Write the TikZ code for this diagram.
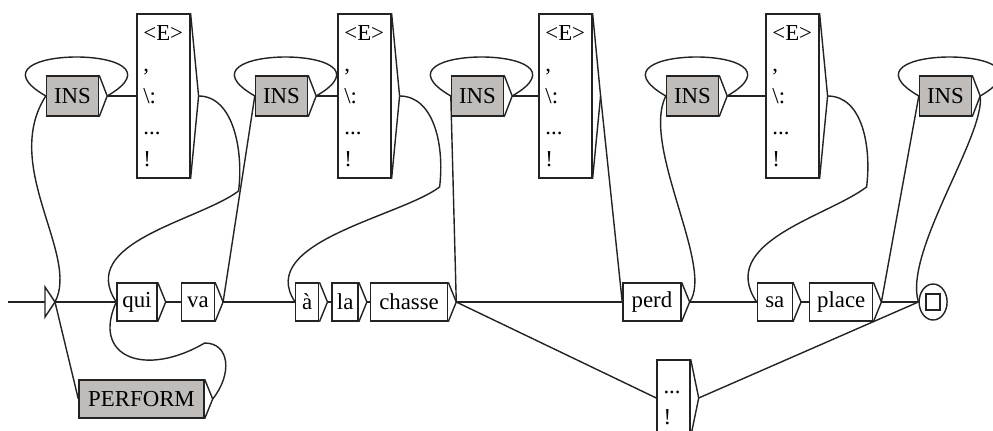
\documentclass[tikz,border=0pt]{standalone}
\usepackage{fontspec}
\setmainfont{Liberation Serif}
\usetikzlibrary{positioning,shapes.geometric}
\definecolor{uxGris}{RGB}{192,188,186}
\definecolor{uxTrait}{RGB}{35,35,35}

\begin{document}
\begin{tikzpicture}[x=0.02cm, y=0.02cm,
     boite/.style={rectangle, draw=uxTrait, line width=0.8pt, inner sep=1pt,
                   minimum height=0.76cm, font=\fontsize{13}{18}\selectfont},
     ins/.style={boite, fill=uxGris, minimum width=1.04cm, minimum height=0.8cm},
     liste/.style={boite, minimum width=1.06cm, minimum height=3.28cm,
                   text width=0.8cm, inner xsep=0.13cm, align=left},
     tr/.style={uxTrait, line width=0.8pt}]
    \useasboundingbox (0,0) rectangle (993,430);
    \clip (0,0) rectangle (993,430);
    % ligne principale
    \coordinate (entree) at (8,128);
    \coordinate (init) at (55,128);
    \node[boite, minimum width=0.8cm] (qui) at (137,128) {qui};
    \node[boite, minimum width=0.66cm, right=0.46cm of qui] (va) {va};
    \node[boite, minimum width=0.46cm, right=1.6cm of va] (a) {à};
    \node[boite, minimum width=0.52cm, right=0.24cm of a] (la) {la};
    \node[boite, minimum width=1.54cm, right=0.22cm of la] (chasse) {chasse};
    \node[boite, minimum width=1.16cm, right=3.48cm of chasse] (perd) {perd};
    \node[boite, minimum width=0.7cm, right=1.5cm of perd] (sa) {sa};
    \node[boite, minimum width=1.26cm, right=0.32cm of sa] (place) {place};
    \node[draw=uxTrait, line width=0.8pt, ellipse, inner sep=0pt,
          minimum width=0.56cm, minimum height=0.72cm, right=0.9cm of place] (final) {};
    \node[draw=uxTrait, line width=0.8pt, inner sep=0pt,
          minimum width=0.28cm, minimum height=0.32cm] (carre) at (final) {};
    \node[ins, minimum width=2.5cm, minimum height=0.76cm] (perform) at (141.5,31) {PERFORM};
    \node[liste, minimum width=0.66cm, text width=0.4cm, minimum height=1.52cm] (pct) at (673.5,32) {\strut...\\!};
    % insertions
    \node[ins] (ins1) at (72.5,334) {INS};
    \node[liste, right=0.74cm of ins1] (b1) {<E>\\,\\\textbackslash:\\...\\!};
    \node[ins] (ins2) at (281.5,334) {INS};
    \node[liste, right=0.58cm of ins2] (b2) {<E>\\,\\\textbackslash:\\...\\!};
    \node[ins] (ins3) at (477.5,334) {INS};
    \node[liste, right=0.68cm of ins3] (b3) {<E>\\,\\\textbackslash:\\...\\!};
    \node[ins] (ins4) at (692.5,334) {INS};
    \node[liste, right=0.92cm of ins4] (b4) {<E>\\,\\\textbackslash:\\...\\!};
    \node[ins] (ins5) at (945.5,334) {INS};
    % sorties des boites
    \foreach \n in {qui,va,a,la,chasse,perd,sa,place,perform,pct,
                    ins1,ins2,ins3,ins4,ins5,b1,b2,b3,b4} {
      \draw[tr] (\n.north east) -- ([xshift=1.6mm]\n.east) -- (\n.south east);
      \coordinate (\n-o) at ([xshift=1.6mm]\n.east);
    }
    % etat initial
    \draw[tr] (entree) -- ++(37,0);
    \draw[tr] (init) -- ++(-10,15) -- ++(0,-30) -- cycle;
    \draw[tr] (init) -- (qui.west);
    \draw[tr] (init) -- (perform.west);
    \draw[tr] (init) .. controls +(25,47) and +(-45,-70) .. (ins1.west);
    \draw[tr] (perform-o) .. controls +(20,25) and +(25,0) .. ++(-8,56)
                          .. controls +(-60,-35) and +(-25,-55) .. (qui.west);
    % boucles INS
    \foreach \i in {1,...,5}
      \draw[tr] (ins\i-o) .. controls +(90,52) and +(-90,52) .. (ins\i.west);
    \draw[tr] (ins1-o) -- (b1.west);
    \draw[tr] (ins2-o) -- (b2.west);
    \draw[tr] (ins3-o) -- (b3.west);
    \draw[tr] (ins4-o) -- (b4.west);
    % transitions
    \draw[tr] (b1-o) .. controls +(35,0) and +(5,40) .. ++(40,-95)
                     .. controls +(-40,-30) and +(-40,60) .. (qui.west);
    \draw[tr] (qui-o) -- (va.west);
    \draw[tr] (va-o) -- (a.west);
    \draw[tr] (va-o) -- (ins2.west);
    \draw[tr] (b2-o) .. controls +(35,0) and +(5,40) .. ++(40,-91)
                     .. controls +(-40,-30) and +(-40,60) .. (a.west);
    \draw[tr] (a-o) -- (la.west);
    \draw[tr] (la-o) -- (chasse.west);
    \draw[tr] (chasse-o) -- (ins3.west);
    \draw[tr] (chasse-o) -- (perd.west);
    \draw[tr] (chasse-o) -- (pct.west);
    \draw[tr] (b3-o) -- (perd.west);
    \draw[tr] (perd-o) -- (sa.west);
    \draw[tr] (perd-o) .. controls +(25,35) and +(-25,-50) .. (ins4.west);
    \draw[tr] (b4-o) .. controls +(35,0) and +(5,40) .. ++(39,-91)
                     .. controls +(-40,-30) and +(-40,60) .. (sa.west);
    \draw[tr] (sa-o) -- (place.west);
    \draw[tr] (place-o) -- (final.west);
    \draw[tr] (place-o) -- (ins5.west);
    \draw[tr] (ins5-o) .. controls +(5,-40) and +(-15,50) .. (final.west);
    \draw[tr] (pct-o) -- (final.west);
  \end{tikzpicture}
\end{document}
